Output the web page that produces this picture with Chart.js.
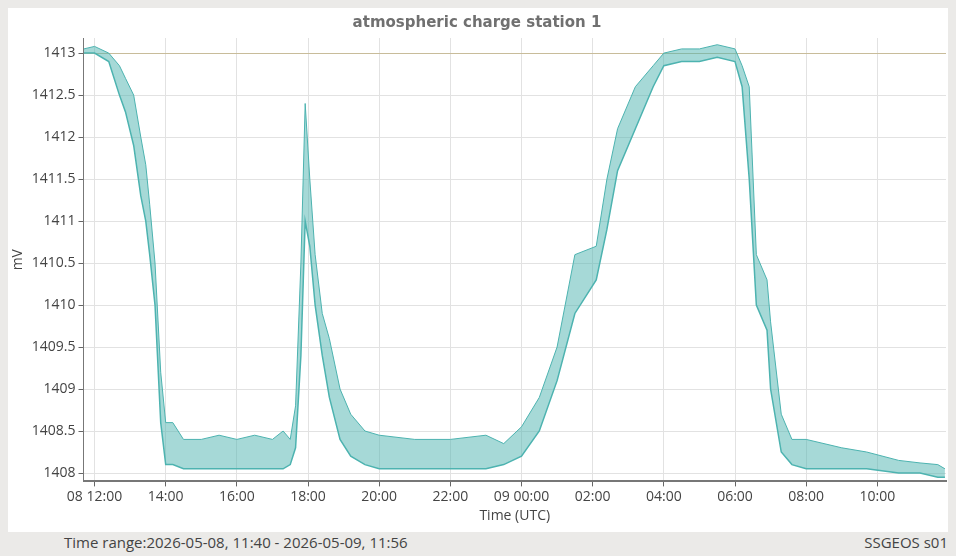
<!DOCTYPE html>
<html lang="en">
  <head>
    <meta charset="UTF-8" />
    <title>atmospheric charge station 1</title>
    <script src="https://cdn.jsdelivr.net/npm/chart.js"></script>
    <style>
      body { margin: 0; background: #ebeae8; font-family: "DejaVu Sans", sans-serif; }
      #panel { position: absolute; left: 8px; top: 8px; width: 940px; height: 524px; background: #fff; }
      .foot { position: absolute; top: 532px; font-size: 15px; color: #444; font-family: "Open Sans", sans-serif; }
    </style>
  </head>
  <body>
    <div id="panel"><canvas id="chart" width="940" height="524"></canvas></div>
    <div class="foot" style="left: 64px">Time range:2026-05-08, 11:40 - 2026-05-09, 11:56</div>
    <div class="foot" style="right: 8px">SSGEOS s01</div>

    <script>
      // hours since 2026-05-08 00:00 UTC
      const hours = [11.7, 12.0, 12.4, 12.7, 12.87, 13.1, 13.3, 13.44, 13.55, 13.7, 13.86, 14.0, 14.2, 14.5,
        15.0, 15.5, 16.0, 16.5, 17.0, 17.3, 17.5, 17.65, 17.8, 17.92, 18.05, 18.2, 18.4, 18.6, 18.9, 19.2,
        19.6, 20.0, 21.0, 22.0, 23.0, 23.5, 24.0, 24.5, 25.0, 25.5, 26.1, 26.4, 26.7, 27.2, 27.7, 28.0,
        28.5, 29.0, 29.5, 30.0, 30.2, 30.4, 30.6, 30.9, 31.0, 31.3, 31.6, 32.0, 33.0, 33.7, 34.6, 35.2, 35.7, 35.9];
      const lowMv = [1413.0, 1413.0, 1412.9, 1412.5, 1412.3, 1411.9, 1411.3, 1411.0, 1410.6, 1410.0, 1408.6, 1408.1, 1408.1, 1408.05,
        1408.05, 1408.05, 1408.05, 1408.05, 1408.05, 1408.05, 1408.1, 1408.3, 1409.4, 1411.0, 1410.7, 1410.0, 1409.4, 1408.9, 1408.4, 1408.2,
        1408.1, 1408.05, 1408.05, 1408.05, 1408.05, 1408.1, 1408.2, 1408.5, 1409.1, 1409.9, 1410.3, 1410.9, 1411.6, 1412.1, 1412.6, 1412.85,
        1412.9, 1412.9, 1412.95, 1412.9, 1412.6, 1411.5, 1410.0, 1409.7, 1409.0, 1408.25, 1408.1, 1408.05, 1408.05, 1408.05, 1408.0, 1408.0, 1407.95, 1407.95];
      const highMv = [1413.05, 1413.08, 1413.0, 1412.85, 1412.7, 1412.5, 1412.0, 1411.67, 1411.2, 1410.5, 1409.2, 1408.6, 1408.6, 1408.4,
        1408.4, 1408.45, 1408.4, 1408.45, 1408.4, 1408.5, 1408.4, 1408.8, 1410.5, 1412.4, 1411.5, 1410.6, 1409.9, 1409.6, 1409.0, 1408.7,
        1408.5, 1408.45, 1408.4, 1408.4, 1408.45, 1408.35, 1408.55, 1408.9, 1409.5, 1410.6, 1410.7, 1411.5, 1412.1, 1412.6, 1412.85, 1413.0,
        1413.05, 1413.05, 1413.1, 1413.05, 1412.85, 1412.6, 1410.6, 1410.3, 1409.8, 1408.7, 1408.4, 1408.4, 1408.3, 1408.25, 1408.15, 1408.12, 1408.1, 1408.05];
      const yTicks = [1408, 1408.5, 1409, 1409.5, 1410, 1410.5, 1411, 1411.5, 1412, 1412.5, 1413];
      const xTicks = [12, 14, 16, 18, 20, 22, 24, 26, 28, 30, 32, 34];

      function timeLabel(h) {
        const hh = String(h % 24).padStart(2, "0") + ":00";
        if (h === 12) return "08 " + hh;
        if (h === 24) return "09 " + hh;
        return hh;
      }

      const teal = "#4db3b0";
      new Chart(document.getElementById("chart"), {
        type: "line",
        data: {
          datasets: [
            { data: hours.map((h, i) => ({ x: h, y: lowMv[i] })), borderColor: teal, borderWidth: 1.5, pointRadius: 0, fill: false },
            { data: hours.map((h, i) => ({ x: h, y: highMv[i] })), borderColor: teal, borderWidth: 1, pointRadius: 0, fill: "-1", backgroundColor: "rgba(77,179,176,0.5)" },
          ],
        },
        options: {
          responsive: false,
          animation: false,
          layout: { padding: { right: 2, top: 0, bottom: 8 } },
          plugins: {
            legend: { display: false },
            tooltip: { enabled: false },
            title: { display: true, text: "atmospheric charge station 1", color: "#707070", font: { family: "DejaVu Sans", size: 15, weight: "bold" }, padding: { top: 6, bottom: 6 } },
          },
          scales: {
            x: {
              type: "linear", min: 11.69, max: 35.93,
              afterBuildTicks: (s) => { s.ticks = xTicks.map((v) => ({ value: v })); },
              ticks: { callback: (v) => timeLabel(v), color: "#444", font: { family: "Open Sans", size: 14 }, maxRotation: 0, autoSkip: false, padding: 2 },
              grid: { color: "#e2e2e2", tickColor: "#666", tickLength: 5 },
              border: { color: "#777", width: 2 },
              title: { display: true, text: "Time (UTC)", color: "#444", font: { family: "Open Sans", size: 14 }, padding: 0 },
            },
            y: {
              min: 1407.9, max: 1413.18,
              afterBuildTicks: (s) => { s.ticks = yTicks.map((v) => ({ value: v })); },
              ticks: { callback: (v) => String(v), color: "#444", font: { family: "Open Sans", size: 14 }, padding: 3 },
              grid: { color: (c) => (c.tick && c.tick.value === 1413 ? "#c8bc9a" : "#e2e2e2"), tickColor: "#666", tickLength: 5 },
              border: { color: "#777", width: 1 },
              title: { display: true, text: "mV", color: "#444", font: { family: "Open Sans", size: 14 }, padding: 2 },
            },
          },
        },
      });
    </script>
  </body>
</html>
